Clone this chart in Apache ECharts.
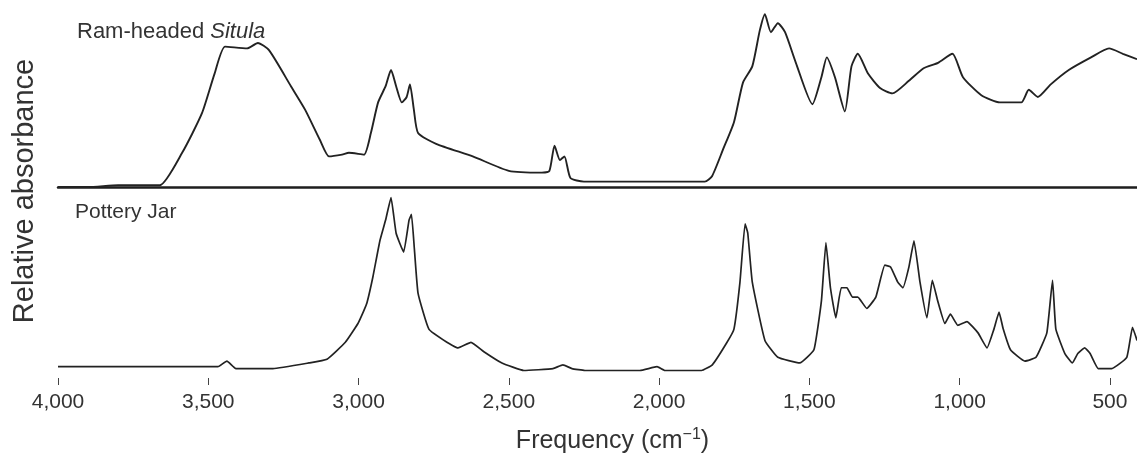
<!DOCTYPE html>
<html>
<head>
<meta charset="utf-8">
<script src="https://cdn.jsdelivr.net/npm/echarts@6/dist/echarts.min.js"></script>
<style>
  html, body { margin: 0; padding: 0; background: #fff; }
  #chart { width: 1137px; height: 462px; }
</style>
</head>
<body>
<div id="chart"></div>
<script>
// IR spectra - ram-headed situla vs pottery jar

const situlaFreq = [4000, 3900, 3800, 3700, 3661, 3587, 3521, 3479, 3444, 3371, 3335, 3298, 3225, 3178, 3128,
    3098, 3055, 3032, 2982, 2959, 2935, 2910, 2892, 2875, 2856, 2840, 2829, 2816, 2802, 2742,
    2620, 2500, 2390, 2365, 2348, 2330, 2315, 2295, 2250, 2000, 1848, 1824, 1787, 1751, 1721,
    1690, 1665, 1648, 1628, 1605, 1581, 1545, 1490, 1460, 1442, 1415, 1382, 1360, 1339, 1305,
    1265, 1224, 1169, 1120, 1072, 1024, 989, 928, 866, 795, 770, 740, 697, 637, 563, 503, 457, 410];
const situlaAbs = [0.00, 0.00, 0.01, 0.01, 0.01, 0.19, 0.41, 0.63, 0.78, 0.77, 0.80, 0.76, 0.56, 0.43, 0.26,
    0.17, 0.18, 0.19, 0.18, 0.30, 0.47, 0.56, 0.65, 0.56, 0.47, 0.50, 0.57, 0.43, 0.30, 0.24,
    0.17, 0.09, 0.08, 0.09, 0.23, 0.15, 0.17, 0.05, 0.03, 0.03, 0.03, 0.06, 0.21, 0.36, 0.58,
    0.67, 0.87, 0.96, 0.86, 0.91, 0.86, 0.69, 0.46, 0.61, 0.72, 0.61, 0.42, 0.67, 0.74, 0.63,
    0.55, 0.52, 0.59, 0.66, 0.69, 0.74, 0.61, 0.51, 0.47, 0.47, 0.54, 0.50, 0.57, 0.65, 0.72, 0.77, 0.74, 0.71];

const jarFreq = [4000, 3468, 3438, 3408, 3285, 3165, 3105, 3044, 3002, 2982, 2972, 2952, 2929, 2910, 2892,
    2875, 2850, 2832, 2824, 2814, 2802, 2766, 2706, 2669, 2626, 2583, 2523, 2450, 2353, 2320,
    2290, 2247, 2064, 2007, 1981, 1859, 1823, 1774, 1751, 1731, 1714, 1705, 1690, 1648, 1605,
    1532, 1485, 1460, 1445, 1430, 1412, 1394, 1375, 1357, 1339, 1309, 1279, 1249, 1230, 1206,
    1189, 1169, 1152, 1132, 1109, 1091, 1073, 1049, 1031, 1006, 976, 939, 909, 886, 869,
    855, 831, 783, 746, 710, 691, 680, 650, 625, 607, 584, 566, 539, 494, 444, 425, 410];
const jarAbs = [0.06, 0.06, 0.09, 0.05, 0.05, 0.08, 0.10, 0.19, 0.29, 0.36, 0.40, 0.54, 0.73, 0.84, 0.96,
    0.77, 0.67, 0.84, 0.87, 0.68, 0.45, 0.26, 0.19, 0.16, 0.19, 0.14, 0.08, 0.04, 0.05, 0.07,
    0.05, 0.04, 0.04, 0.06, 0.04, 0.04, 0.07, 0.19, 0.26, 0.51, 0.82, 0.77, 0.51, 0.20, 0.11,
    0.08, 0.15, 0.41, 0.72, 0.48, 0.32, 0.48, 0.48, 0.43, 0.43, 0.37, 0.43, 0.60, 0.59, 0.51,
    0.48, 0.59, 0.73, 0.51, 0.32, 0.52, 0.41, 0.29, 0.34, 0.28, 0.30, 0.24, 0.16, 0.26, 0.35,
    0.26, 0.15, 0.09, 0.11, 0.24, 0.52, 0.26, 0.13, 0.08, 0.13, 0.16, 0.13, 0.05, 0.05, 0.11, 0.27, 0.20];

const tickValues = [4000, 3500, 3000, 2500, 2000, 1500, 1000, 500];
const panelNames = ['Ram-headed {i|Situla}', 'Pottery Jar'];

const FONT = '"Liberation Sans", Arial, Helvetica, sans-serif';
const INK = '#222';

const chart = echarts.init(document.getElementById('chart'), null, { renderer: 'canvas' });

const pairs = (xs, ys) => xs.map((x, i) => [x, ys[i]]);

const baseX = {
    type: 'value',
    inverse: true,
    min: 410,
    max: 4000,
    splitLine: { show: false }
};

const option = {
    backgroundColor: '#fff',
    animation: false,
    grid: [
        { left: 58, right: 0, top: 7, height: 180 },
        { left: 58, right: 0, top: 190, height: 188 }
    ],
    xAxis: [
        {
            ...baseX,
            gridIndex: 0,
            axisLine: { show: true, lineStyle: { color: '#1e1e1e', width: 2.5 } },
            axisTick: { show: false },
            axisLabel: { show: false }
        },
        {
            ...baseX,
            gridIndex: 1,
            axisLine: { show: false },
            axisTick: {
                show: true,
                length: 7,
                customValues: tickValues,
                lineStyle: { color: '#444', width: 1 }
            },
            axisLabel: {
                customValues: tickValues,
                margin: 14,
                color: '#333',
                fontFamily: FONT,
                fontSize: 21,
                formatter: v => v.toLocaleString('en-US')
            },
            name: 'Frequency (cm{sup|−1})',
            nameLocation: 'middle',
            nameGap: 49,
            nameTextStyle: {
                color: '#333',
                fontFamily: FONT,
                fontSize: 25,
                padding: [0, 0, 0, 30],
                rich: {
                    sup: { fontSize: 16, fontFamily: FONT, color: '#333', padding: [0, 0, 12, 0] }
                }
            }
        }
    ],
    yAxis: [
        { type: 'value', gridIndex: 0, min: 0, max: 1, show: false },
        { type: 'value', gridIndex: 1, min: 0, max: 1, show: false }
    ],
    series: [
        {
            type: 'line',
            xAxisIndex: 0,
            yAxisIndex: 0,
            data: pairs(situlaFreq, situlaAbs),
            showSymbol: false,
            smooth: 0.2,
            lineStyle: { color: INK, width: 1.9 }
        },
        {
            type: 'line',
            xAxisIndex: 1,
            yAxisIndex: 1,
            data: pairs(jarFreq, jarAbs),
            showSymbol: false,
            smooth: 0.12,
            lineStyle: { color: INK, width: 1.7 }
        }
    ],
    graphic: [
        {
            type: 'text',
            x: 25,
            y: 191,
            rotation: Math.PI / 2,
            style: {
                text: 'Relative absorbance',
                fontFamily: FONT,
                fontSize: 29,
                fill: '#333',
                align: 'center',
                verticalAlign: 'middle'
            }
        },
        {
            type: 'text',
            x: 77,
            y: 32,
            style: {
                text: panelNames[0],
                fontFamily: FONT,
                fontSize: 22,
                fill: '#333',
                verticalAlign: 'middle',
                rich: { i: { fontStyle: 'italic', fontFamily: FONT, fontSize: 22, fill: '#333' } }
            }
        },
        {
            type: 'text',
            x: 75,
            y: 212,
            style: {
                text: panelNames[1],
                fontFamily: FONT,
                fontSize: 21,
                fill: '#333',
                verticalAlign: 'middle'
            }
        }
    ]
};

chart.setOption(option);

window.addEventListener('resize', () => {
    chart.resize();
});
</script>
</body>
</html>
